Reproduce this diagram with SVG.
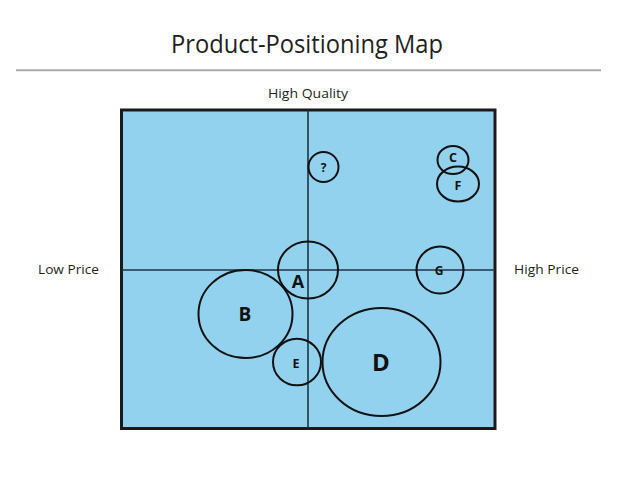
<svg xmlns="http://www.w3.org/2000/svg" width="638" height="479" viewBox="0 0 638 479">
<style>
.t{font-family:"Open Sans","Liberation Sans",sans-serif;fill:#231f20}
.lbl{font-family:"Open Sans","Liberation Sans",sans-serif;font-weight:bold;fill:#111;text-anchor:middle}
.c{fill:none;stroke:#111;stroke-width:2}
.ax{stroke:#1c3342;stroke-width:1.6}
</style>
<rect width="638" height="479" fill="#fff"/>
<text class="t" x="307" y="53" font-size="25" text-anchor="middle" textLength="272" lengthAdjust="spacingAndGlyphs">Product-Positioning Map</text>
<line x1="16" y1="70.3" x2="601" y2="70.3" stroke="#aaa" stroke-width="2"/>
<text class="t" x="308" y="98" font-size="13.5" text-anchor="middle" textLength="80" lengthAdjust="spacingAndGlyphs">High Quality</text>
<text class="t" x="38" y="274" font-size="13.5" textLength="61" lengthAdjust="spacingAndGlyphs">Low Price</text>
<text class="t" x="514" y="274" font-size="13.5" textLength="65" lengthAdjust="spacingAndGlyphs">High Price</text>
<g id="map">
<rect x="121.5" y="110" width="373.5" height="318.5" fill="#93d2ef" stroke="#1a1a1a" stroke-width="3"/>
</g>
<g id="connectors">
<line class="ax" x1="308" y1="110" x2="308" y2="428"/>
<line class="ax" x1="121.5" y1="270" x2="495" y2="270"/>
</g>
<g id="node-q"><circle class="c" cx="323.5" cy="167" r="15"/><text class="lbl" x="323.5" y="171.5" font-size="12">?</text></g>
<g id="node-c"><ellipse class="c" cx="453" cy="160" rx="15.5" ry="14"/><text class="lbl" x="453" y="162" font-size="12.5">C</text></g>
<g id="node-f"><ellipse class="c" cx="458" cy="184" rx="21" ry="17.5"/><text class="lbl" x="458" y="190" font-size="12.5">F</text></g>
<g id="node-g"><circle class="c" cx="440" cy="270" r="23.5"/><text class="lbl" x="439" y="274.5" font-size="12">G</text></g>
<g id="node-a"><ellipse class="c" cx="308" cy="270" rx="30" ry="28.5"/><text class="lbl" x="298" y="288" font-size="18">A</text></g>
<g id="node-b"><ellipse class="c" cx="245.5" cy="314" rx="47" ry="44"/><text class="lbl" x="245" y="321" font-size="19">B</text></g>
<g id="node-e"><ellipse class="c" cx="297" cy="362" rx="24" ry="23.3"/><text class="lbl" x="296" y="368" font-size="12.5">E</text></g>
<g id="node-d"><ellipse class="c" cx="381.5" cy="362" rx="59" ry="54"/><text class="lbl" x="381" y="371" font-size="24">D</text></g>
</svg>
